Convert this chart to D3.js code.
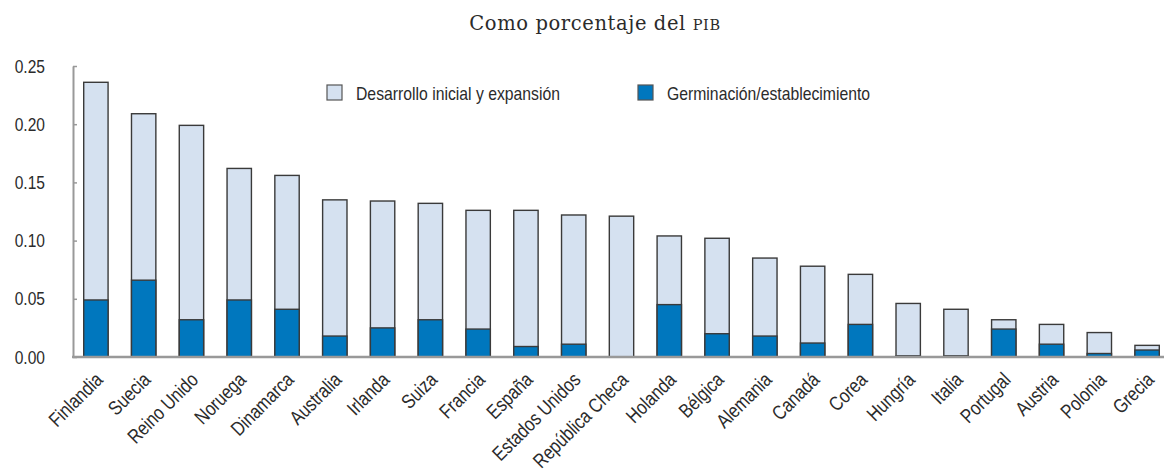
<!DOCTYPE html>
<html>
<head>
<meta charset="utf-8">
<script src="https://cdn.jsdelivr.net/npm/d3@7"></script>
<style>
  html, body { margin: 0; padding: 0; background: #fff; }
  svg { display: block; }
</style>
</head>
<body>
<svg id="chart" width="1164" height="476"></svg>
<script>
const countries = ["Finlandia","Suecia","Reino Unido","Noruega","Dinamarca","Australia","Irlanda","Suiza","Francia","España","Estados Unidos","República Checa","Holanda","Bélgica","Alemania","Canadá","Corea","Hungría","Italia","Portugal","Austria","Polonia","Grecia"];
const totalValues = [0.236,0.209,0.199,0.162,0.156,0.135,0.134,0.132,0.126,0.126,0.122,0.121,0.104,0.102,0.085,0.078,0.071,0.046,0.041,0.032,0.028,0.021,0.010];
const germValues  = [0.049,0.066,0.032,0.049,0.041,0.018,0.025,0.032,0.024,0.009,0.011,0.000,0.045,0.020,0.018,0.012,0.028,0.001,0.001,0.024,0.011,0.003,0.006];
const seriesNames = ["Desarrollo inicial y expansión","Germinación/establecimiento"];
const yTicks = [0, 0.05, 0.10, 0.15, 0.20, 0.25];

const colors = { light: "#d5e1f0", dark: "#0077be", stroke: "#3a3a3a", axis: "#999999", text: "#2b2b2b" };
const labelFont = "'Liberation Sans Narrow','Arial Narrow','Liberation Sans',Arial,sans-serif";

const svg = d3.select("#chart");
const W = 1164;

const x = d3.scaleBand().domain(countries).range([72, 1171]).paddingInner(0.49).paddingOuter(0.245);
const y = d3.scaleLinear().domain([0, 0.25]).range([357, 66]);

// Title
const title = svg.append("text")
  .attr("x", 595).attr("y", 30)
  .attr("text-anchor", "middle")
  .attr("font-family", "'DejaVu Serif','Liberation Serif',serif")
  .attr("font-size", 19.5)
  .attr("letter-spacing", 0.6)
  .attr("fill", colors.text);
title.append("tspan").text("Como porcentaje del ");
title.append("tspan").attr("font-size", 14.5).text("PIB");

// Bars
const g = svg.append("g");
countries.forEach((c, i) => {
  const bx = x(c), bw = x.bandwidth();
  g.append("rect")
    .attr("x", bx).attr("y", y(totalValues[i]))
    .attr("width", bw).attr("height", y(0) - y(totalValues[i]))
    .attr("fill", colors.light).attr("stroke", colors.stroke).attr("stroke-width", 1.4);
  if (germValues[i] > 0) {
    g.append("rect")
      .attr("x", bx).attr("y", y(germValues[i]))
      .attr("width", bw).attr("height", y(0) - y(germValues[i]))
      .attr("fill", colors.dark).attr("stroke", colors.stroke).attr("stroke-width", 1.4);
  }
});

// Y axis
const yAxis = svg.append("g").attr("transform", "translate(73,0)")
  .call(d3.axisLeft(y).tickValues(yTicks).tickFormat(d3.format(".2f")).tickSize(-4).tickSizeOuter(0).tickPadding(28));
yAxis.select(".domain").attr("stroke", colors.axis).attr("stroke-width", 2);
yAxis.selectAll(".tick line").attr("stroke", colors.axis).attr("stroke-width", 1.5);
yAxis.selectAll(".tick text")
  .attr("x", 0)
  .attr("transform", "translate(-28,0) scale(0.82,1)")
  .attr("font-family", labelFont).attr("font-size", 19).attr("fill", colors.text);

// X axis
const xAxis = svg.append("g").attr("transform", "translate(0,357)")
  .call(d3.axisBottom(x).tickSize(0).tickSizeOuter(0).tickPadding(0));
xAxis.select(".domain").remove();
svg.append("line").attr("x1", 72).attr("x2", W).attr("y1", y(0)).attr("y2", y(0))
  .attr("stroke", colors.axis).attr("stroke-width", 2.5);
xAxis.selectAll(".tick text")
  .attr("font-family", labelFont).attr("font-size", 20).attr("fill", colors.text)
  .attr("text-anchor", "end")
  .attr("y", 0).attr("dy", 0)
  .attr("transform", "translate(8,24) rotate(-45) scale(0.82,1)");

// Legend
const legend = [
  { name: seriesNames[0], fill: colors.light, x: 327 },
  { name: seriesNames[1], fill: colors.dark, x: 638 }
];
legend.forEach(l => {
  svg.append("rect").attr("x", l.x).attr("y", 85).attr("width", 15).attr("height", 15)
    .attr("fill", l.fill).attr("stroke", "#555").attr("stroke-width", 1.2);
  svg.append("text").attr("x", 0).attr("y", 0).attr("dy", "0.35em")
    .attr("transform", `translate(${l.x + 29},93) scale(0.83,1)`)
    .attr("font-family", labelFont).attr("font-size", 19).attr("fill", colors.text)
    .text(l.name);
});
</script>
</body>
</html>
